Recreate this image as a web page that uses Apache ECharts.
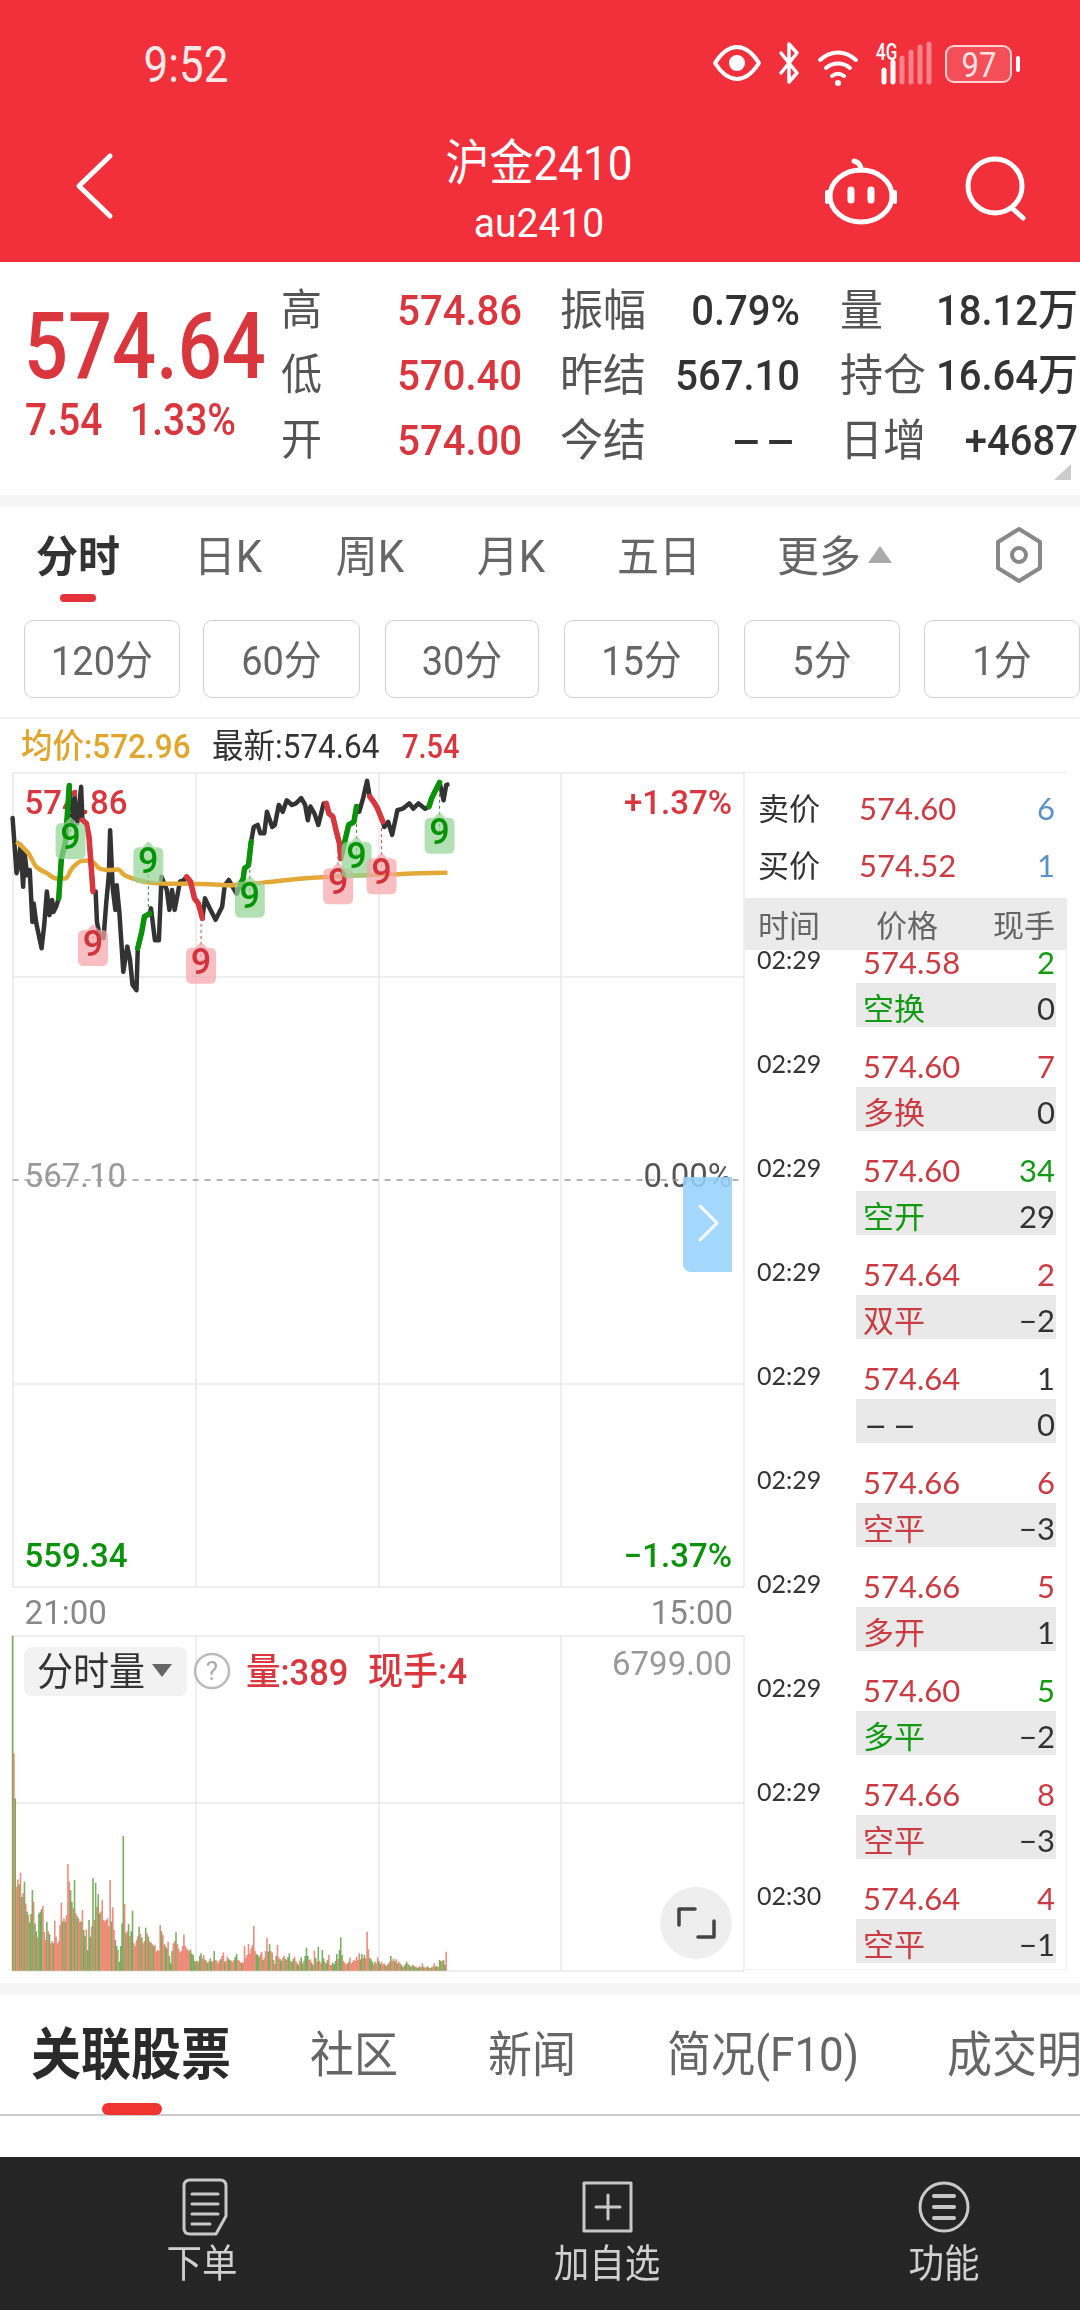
<!DOCTYPE html>
<html>
<head>
<meta charset="utf-8">
<title>沪金2410</title>
<script src="https://cdn.jsdelivr.net/npm/echarts@6/dist/echarts.min.js"></script>
<style>
html,body{margin:0;padding:0;background:#fff;overflow:hidden}
#page{position:relative;width:1080px;height:2310px;overflow:hidden;font-family:Roboto,"Noto Sans CJK SC",sans-serif}
#myChart{position:absolute;left:0;top:0;width:1080px;height:2310px}
#ui{position:absolute;left:0;top:0;width:1080px;height:2310px}
.t{position:absolute;white-space:nowrap;line-height:1}
.b{position:absolute;box-sizing:border-box}
svg{position:absolute;left:0;top:0}
</style>
</head>
<body>
<div id="page">
  <div id="myChart"></div>
  <div id="ui"></div>
</div>
<script>
const RED = '#D9363E', GREEN = '#0A930A', DARK = '#333333', GREY = '#666666';

// minute since 21:00, price
const priceMinutes = [0,3,4,6,8,9,11,13,15,16,18,19,22,24,26,28,30,31,33,35,37,40,41,43,45,47,49,52,53,56,58,59,61,63,64,66,69,71,73,74,76,78,79,81,84,87,89,91,94,95,98,100,104,105,108,111,113,117,119,121,123,127,130,132,135,138,141,144,146,149,154,159,161,164,167,170,173,175,176,179,181,183,186,188,191,193,197,199,202,205,208,212,215,219,222,224,226,229,232,236,238,240,243,246,248,249,252,255,259,261,263,266,269,271,274,277,281,282,285,288,292,296,301,304,308,313,316,318,321,324,327,329,330];
const priceValues = [574.00,572.95,573.04,573.49,572.69,573.36,572.91,573.01,572.02,572.37,571.99,572.02,571.52,571.96,572.60,572.15,572.44,572.21,572.31,572.47,573.23,573.52,573.87,574.62,573.90,574.38,573.90,574.60,573.96,573.90,573.64,573.29,572.60,572.60,572.02,571.77,571.71,572.37,572.91,573.77,572.66,572.25,572.72,572.21,571.07,571.55,571.32,570.82,570.72,571.52,571.83,572.12,572.18,572.28,571.67,571.67,572.88,572.63,572.25,572.63,572.25,572.79,572.82,572.88,572.79,572.47,572.37,572.09,572.47,572.31,572.06,572.31,572.72,572.82,572.69,572.56,572.75,572.85,573.04,573.10,573.55,573.83,573.87,573.71,573.71,574.12,573.83,573.87,574.25,574.12,574.34,574.25,574.28,574.38,574.25,573.96,574.22,574.09,573.87,574.28,574.28,574.09,574.03,573.71,573.52,573.23,573.55,573.87,573.93,574.22,574.12,574.38,574.71,574.41,574.31,574.18,573.93,573.83,573.93,573.68,574.15,574.18,574.28,574.18,574.28,574.18,574.22,574.38,574.53,574.68,574.34,574.63,574.64];
const avgMinutes = [3,12,18,26,33,40,45,52,59,66,74,80,85,95,104,117,132,150,167,175,190,216,241,266,291,327,330];
const avgValues = [573.55,573.33,573.07,572.95,572.85,572.85,573.04,573.18,573.19,573.04,573.01,573.02,572.91,572.82,572.77,572.75,572.75,572.74,572.72,572.75,572.77,572.84,572.88,572.91,572.93,572.96,572.96];
const greenRanges = [[35,43],[95,104],[173,181],[249,261],[316,324]];
const redRanges = [[53,61],[132,144],[238,249],[271,281]];

// minute, price on the line, price where the flag sits, 1 green / 0 red
const pins = [[44,574.20,573.62,1],[61,571.90,571.58,0],[103,572.18,573.16,1],[143,572.10,571.24,0],[180,573.20,572.50,1],[247,573.60,572.76,0],[261,574.20,573.26,1],[280,573.95,572.95,0],[324,574.60,573.72,1]];

// one bar a minute, 21:00 to 02:29
const volumes = [6799,4411,3498,1700,1853,1750,1989,1500,1570,1806,
1366,1200,1130,980,1150,1637,1400,960,800,676,
1163,1197,1250,1312,790,620,994,800,744,555,
600,560,1014,690,555,600,927,1380,1000,1062,
1000,1130,2165,1806,1637,1400,1265,1840,1163,1100,
1062,994,1000,1231,825,700,839,420,1028,690,
900,1874,1028,1786,1300,1556,1163,1200,1434,1028,
1000,1028,1062,900,1840,1000,1285,825,622,500,
420,180,500,960,2733,1353,758,800,947,703,
800,1218,555,500,622,700,893,750,676,555,
600,873,758,690,600,568,541,500,521,386,
420,406,927,800,724,541,500,450,589,300,
149,400,555,600,778,541,450,372,400,500,
737,500,453,420,399,433,350,318,200,180,
203,180,300,352,250,318,220,203,160,190,
250,180,200,399,220,203,150,203,240,300,
372,183,200,284,240,216,200,180,220,284,
338,220,203,170,160,169,500,260,318,541,
350,453,520,906,399,340,318,280,330,385,
216,250,400,670,385,541,400,372,220,135,
300,521,270,230,203,260,304,240,216,280,
352,200,183,240,284,190,149,115,200,270,
149,200,300,467,300,216,230,160,115,406,
260,183,487,200,149,419,250,183,150,220,
318,115,120,162,130,200,338,240,419,676,
318,200,162,130,149,180,270,149,180,216,
200,284,220,352,230,338,260,318,250,792,
433,260,230,180,130,183,150,270,190,140,
183,130,149,110,100,135,180,298,200,250,
190,230,150,183,149,120,80,95,130,183,
140,115,80,100,115,80,90,60,68,90,
70,149,80,60,68,90,50,60,68,90,
149,80,95,70,216,190,200,216,120,386];
const volSides = ('grgrrgrgrg'+'rgrgggrggr'+'gggrrrgrgr'+'rgrrrrrrgr'+'grrrggrgrg'+'rrgrggrggg'+'rgrgrggrrr'+'rrrrrgrrgg'+'rggggrgrgr'+'ggrrrrgrgr'+'rgrgrgrgrr'+'rrrgrrggrg'+'ggrrgrrrrr'+'rrrrrggggr'+'grggrrgrgr'+'ggrgrrrrgr'+'rgrrggrrrg'+'grrrgrrrrr'+'rrrrrgggrr'+'grrrggrrgr'+'grrggrrgrg'+'grggrrggrg'+'grgggrrggr'+'grgrrggrgg'+'rrrggggrgg'+'grrrrgrrrr'+'rrrrggrgrr'+'rgggrgrrgg'+'rrrgrgrgrr'+'grgrrggrgg'+'rggrggrggr'+'grgrrggrgr'+'rggrggrggr').split('');

const yMin = 559.34, yMax = 574.86, prevSettle = 567.10, volMax = 6799;
const priceGridTicks = [559.34,563.22,570.98,574.86];
const priceLabelTicks = [559.34,567.10,574.86];
const sessionMinutes = 555;
const timeLabels = ['21:00','15:00'];

// quote block
const quoteRows = [['高','574.86','振幅','0.79%','量','18.12万'],['低','570.40','昨结','567.10','持仓','16.64万'],['开','574.00','今结','--','日增','+4687']];
const chartTabs = ['分时','日K','周K','月K','五日','更多'];
const periods = ['120分','60分','30分','15分','5分','1分'];
const bottomTabs = ['关联股票','社区','新闻','简况(F10)','成交明细'];
const toolbar = ['下单','加自选','功能'];

// trade tape: time, price, qty, qty colour, type, type colour, change
const tape = [
 ['02:29','574.58','2','g','空换','g','0'],
 ['02:29','574.60','7','r','多换','r','0'],
 ['02:29','574.60','34','g','空开','g','29'],
 ['02:29','574.64','2','r','双平','r','−2'],
 ['02:29','574.64','1','d','--','d','0'],
 ['02:29','574.66','6','r','空平','r','−3'],
 ['02:29','574.66','5','r','多开','r','1'],
 ['02:29','574.60','5','g','多平','g','−2'],
 ['02:29','574.66','8','r','空平','r','−3'],
 ['02:30','574.64','4','r','空平','r','−1']];

const ui = document.getElementById('ui');
function box(x,y,w,h,css){
  const d = document.createElement('div');
  d.className = 'b';
  d.style.cssText = `left:${x}px;top:${y}px;width:${w}px;height:${h}px;${css||''}`;
  ui.appendChild(d);
  return d;
}
// x is left, centre or right edge (a), y is the vertical middle
function txt(x,y,s,size,color,a,sy,weight,font){
  const d = document.createElement('div');
  d.className = 't';
  d.textContent = s;
  const tx = a==='c' ? '-50%' : a==='r' ? '-100%' : '0';
  const dash = s==='--';
  d.style.cssText = `left:${x}px;top:${y}px;font-size:${size}px;color:${color};font-weight:${weight||400};`+
    `transform:translate(${tx},-50%) scale(${dash?2.2:1},${sy||1});`+(font?`font-family:${font};`:'')+
    (dash?`transform-origin:${a==='r'?'100%':'0'} 50%;letter-spacing:.05em;`:'');
  ui.appendChild(d);
}

// header
box(0,0,1080,262,'background:#F2303C');
txt(186,65,'9:52',44,'#FDE8E8','c',1.15);
txt(539,163,'沪金2410',44,'#fff','c',1.1,400);
txt(539,224,'au2410',39,'#fff','c',1.05);
box(945,45,67,38,'border:2.5px solid rgba(255,255,255,.75);border-radius:9px;background:rgba(255,255,255,.15)');
txt(979,65,'97',31,'#FCE3E3','c',1.15);
txt(876,52,'4G',17,'#fff','l',1.4,500);

// quote
txt(24,346,'574.64',77.5,RED,'l',1.2,500);
txt(25,421,'7.54',39,RED,'l',1.12,500);
txt(130,421,'1.33%',39,RED,'l',1.12,500);
const rowY = [311,376,441];
quoteRows.forEach((r,i)=>{
  txt(281,rowY[i],r[0],41,'#555','l',1.06);
  txt(522,rowY[i],r[1],40,RED,'r',1.08,500);
  txt(560,rowY[i],r[2],43,'#555','l',1.02);
  txt(800,rowY[i],r[3],40,DARK,'r',1.08,500);
  txt(840,rowY[i],r[4],43,'#555','l',1.02);
  txt(1078,rowY[i],r[5],40,DARK,'r',1.08,500);
});
box(0,495,1080,12,'background:#F5F5F5');

// tabs
const tabX = [78,228,370,511,659,819];
chartTabs.forEach((s,i)=>txt(tabX[i],557,s,42,i===0?DARK:'#666','c',1.04,i===0?700:400));
box(60,594,36,8,'background:#E5323B;border-radius:4px');
const periodX = [24,203,385,564,744,924], periodW = [156,157,154,155,156,156];
periods.forEach((s,i)=>{
  box(periodX[i],620,periodW[i],78,'border:1.5px solid #CFCFCF;border-radius:9px');
  txt(periodX[i]+periodW[i]/2,661,s,38,'#666','c',1.08);
});
box(0,717,1080,2,'background:#F0F0F0');
txt(21,747,'均价:572.96',31.5,'#E0A52A','l',1.08,500);
txt(212,747,'最新:574.64',31.5,DARK,'l',1.08);
txt(402,747,'7.54',29,RED,'l',1.12,500);

// arrow button over the price grid
box(683,1177,49,95,'background:rgba(150,210,250,.88);border-radius:0 0 0 8px');

// volume panel
box(24,1647,163,49,'background:#F2F2F2;border-radius:8px');
txt(37,1672,'分时量',36,DARK,'l',1.06);
txt(212,1671,'?',26,'#AAA','c');
txt(246,1672,'量:389',34.5,RED,'l',1.08,500);
txt(368,1672,'现手:4',35,RED,'l',1.08,500);
box(660,1887,72,72,'background:#EEEEEE;border-radius:50%');

// tape
box(744,772,323,1198,'border:1.5px solid #EFEFEF;border-left:none');
const TAPE_RED = '#CC3A42';
const tapeColor = {g:'#129A12',r:TAPE_RED,d:DARK};
const LATO = 'Lato,"Noto Sans CJK SC",sans-serif';
tape.forEach((r,i)=>{
  const y = 962+104*i;
  box(856,983+104*i,200,44,'background:#E9E9E9');
  txt(757,y-3,r[0],25,DARK,'l',1,400,LATO);
  txt(863,y,r[1],31,TAPE_RED,'l',1,400,LATO);
  txt(1055,y,r[2],31,tapeColor[r[3]],'r',1,400,LATO);
  txt(863,y+46,r[4],31,tapeColor[r[5]],'l',1,400,LATO);
  txt(1055,y+46,r[6],31,DARK,'r',1,400,LATO);
});
box(745,773,322,125,'background:#fff');
txt(758,808,'卖价',31,DARK,'l',1,400,LATO);
txt(859,808,'574.60',31,TAPE_RED,'l',1,400,LATO);
txt(1055,808,'6',31,'#5B93C9','r',1,400,LATO);
txt(758,865,'买价',31,DARK,'l',1,400,LATO);
txt(859,865,'574.52',31,TAPE_RED,'l',1,400,LATO);
txt(1055,865,'1',31,'#5B93C9','r',1,400,LATO);
box(744,898,323,52,'background:#EBEBEB');
txt(758,925,'时间',31,GREY,'l',1,400,LATO);
txt(907,925,'价格',31,GREY,'c',1,400,LATO);
txt(1055,925,'现手',31,GREY,'r',1,400,LATO);

// lower tabs
box(0,1983,1080,12,'background:#F5F5F5');
txt(31,2055,bottomTabs[0],50,'#2A2A2A','l',1.12,700);
txt(354,2055,bottomTabs[1],44,'#666','c',1.1);
txt(532,2055,bottomTabs[2],44,'#666','c',1.1);
txt(667,2055,bottomTabs[3],44,'#666','l',1.08);
txt(947,2055,bottomTabs[4],45,'#666','l',1.08);
box(0,2114,1080,2,'background:#CCCCCC');
box(102,2103,60,12,'background:#F0342F;border-radius:6px');

// toolbar
box(0,2157,1080,153,'background:#252525');
const toolX = [202,607,944];
toolbar.forEach((s,i)=>txt(toolX[i],2265,s,35.5,'#D0D0D0','c',1.08));

// icons
const svg = `<svg width="1080" height="2310" fill="none" stroke-linecap="round" stroke-linejoin="round">
<g stroke="#fff">
<path d="M110 156L79 186L110 216" stroke-width="5"/>
<ellipse cx="861" cy="196" rx="31" ry="26" stroke-width="5"/>
<path d="M827 192v10M895 192v10" stroke-width="4"/>
<path d="M861 170c0-5-3-8-7-9" stroke-width="5"/>
<circle cx="995" cy="186" r="27" stroke-width="5"/>
<path d="M1012 208l11 10" stroke-width="5"/>
<path d="M851 190v10M871 190v10" stroke-width="7"/>
<path d="M715 63c7-11 15-16 22-16s15 5 22 16c-7 11-15 16-22 16s-15-5-22-16z" stroke-width="4"/>
<circle cx="737" cy="63" r="8" fill="#fff" stroke="none"/>
<path d="M781 53l16 20-8 9V44l8 9-16 20" stroke-width="3.5"/>
<path d="M820 60c11-10 25-10 36 0M826 68c7-6 17-6 24 0M832 76c4-3 8-3 12 0" stroke-width="4"/>
<circle cx="838" cy="83" r="3" fill="#fff" stroke="none"/>
<path d="M884 70v12M893 62v20" stroke-width="5"/>
<path d="M902 58v24M911 52v30M920 47v35M929 44v38" stroke="rgba(255,255,255,.4)" stroke-width="5"/>
<path d="M1018 58v12" stroke-width="4"/>
</g>
<path d="M868 563L880 546L892 563z" fill="#AAA"/>
<path d="M1071 464v16h-17z" fill="#CCC"/>
<g stroke="#888" stroke-width="4"><path d="M1019 529l21 13v26l-21 13-21-13v-26z"/><circle cx="1019" cy="555" r="7"/></g>
<path d="M152 1664h20l-10 13z" fill="#666"/>
<circle cx="212" cy="1671" r="17" stroke="#BBB" stroke-width="2.5"/>
<path d="M700 1206l17 17-17 17" stroke="#fff" stroke-width="3"/>
<path d="M679 1925v-16h16M714 1921v16h-16" stroke="#444" stroke-width="3.5"/>
<g stroke="#C8C8C8" stroke-width="3">
<path d="M184 2186q0-6 6-6h30q6 0 6 6v30l-10 18h-26q-6 0-6-6z"/>
<path d="M192 2194h26M192 2204h26M192 2214h26M192 2224h18"/>
<rect x="584" y="2183" width="47" height="48"/>
<path d="M596 2207h24M608 2195v24"/>
<ellipse cx="944" cy="2207" rx="24" ry="24"/>
<path d="M934 2196h20M934 2207h20M934 2218h20" stroke-width="4"/>
</g>
</svg>`;
const wrap = document.createElement('div');
wrap.innerHTML = svg;
ui.appendChild(wrap.firstChild);

// coloured stretches of the price line, cut out of the same vertices
function stretches(ranges){
  const out = [];
  ranges.forEach(([a,b])=>{
    priceMinutes.forEach((m,i)=>{ if(m>=a && m<=b) out.push([m,priceValues[i]]); });
    out.push([b,'-']);
  });
  return out;
}

const myChart = echarts.init(document.getElementById('myChart'));
const font = 'Roboto,"Noto Sans CJK SC",sans-serif';
const gridLine = {show:true,lineStyle:{color:'#E8E8E8',width:1.5}};

function pinItem(params,api){
  const green = api.value(3)===1;
  const m = api.value(0);
  const a = api.coord([m,api.value(1)]);
  const p = api.coord([m,api.value(2)]);
  const line = green ? '#1B8F1B' : '#C04048';
  return {type:'group',children:[
    {type:'line',shape:{x1:p[0],y1:p[1],x2:a[0],y2:a[1]},style:{stroke:line,lineWidth:1,lineDash:[3,3]}},
    {type:'path',shape:{pathData:'M15 0L21 6H24Q30 6 30 12V36Q30 42 24 42H6Q0 42 0 36V12Q0 6 6 6H9Z',x:p[0]-15,y:p[1]-21,width:30,height:42,layout:'cover'},
      style:{fill:green?'rgba(150,212,150,.72)':'rgba(245,165,170,.72)'}},
    {type:'text',x:p[0],y:p[1]+2,style:{text:'9',fill:green?'#069406':'#D2333B',font:'500 36px Roboto',align:'center',verticalAlign:'middle'}}
  ]};
}

const option = {
  animation:false,
  grid:[
    {left:12.6,width:731.4,top:773,height:814},
    {left:12.6,width:731.4,top:1635.7,height:335}
  ],
  xAxis:[
    {type:'value',gridIndex:0,min:0,max:sessionMinutes,interval:sessionMinutes/4,
      axisLine:{show:false},axisTick:{show:false},splitLine:gridLine,
      axisLabel:{show:true,customValues:[0,sessionMinutes],margin:12,alignMinLabel:'left',alignMaxLabel:'right',
        formatter:v=>v===0?`{a|${timeLabels[0]}}`:`{b|${timeLabels[1]}}`,
        rich:{a:{color:'#888',fontSize:33,fontFamily:font,padding:[0,0,0,12]},b:{color:'#888',fontSize:33,fontFamily:font,padding:[0,11,0,0]}}}},
    {type:'value',gridIndex:1,min:0,max:sessionMinutes,interval:sessionMinutes/4,
      axisLine:{show:false},axisTick:{show:false},axisLabel:{show:false},splitLine:gridLine}
  ],
  yAxis:[
    {type:'value',gridIndex:0,min:yMin,max:yMax,axisLine:{show:false},
      axisTick:{show:false,customValues:priceGridTicks},splitLine:gridLine,
      axisLabel:{inside:true,margin:12,customValues:priceLabelTicks,
        formatter:v=>v===yMax?`{t|${v.toFixed(2)}}`:v===yMin?`{b|${v.toFixed(2)}}`:`{m|${v.toFixed(2)}}`,
        rich:{
          t:{color:RED,fontSize:33,fontFamily:font,fontWeight:500,padding:[66,0,0,0]},
          m:{color:'#999',fontSize:33,fontFamily:font,padding:[0,0,3,0]},
          b:{color:GREEN,fontSize:33,fontFamily:font,fontWeight:500,padding:[0,0,57,0]}}}},
    {type:'value',gridIndex:0,min:yMin,max:yMax,position:'right',axisLine:{show:false},
      axisTick:{show:false,customValues:priceGridTicks},splitLine:{show:false},
      axisLabel:{inside:true,margin:12,customValues:priceLabelTicks,
        formatter:v=>{
          const pct = ((v-prevSettle)/prevSettle*100);
          const s = Math.abs(pct).toFixed(2)+'%';
          return v===yMax?`{t|+${s}}`:v===yMin?`{b|−${s}}`:`{m|${s}}`;
        },
        rich:{
          t:{color:RED,fontSize:33,fontFamily:font,fontWeight:500,padding:[66,0,0,0]},
          m:{color:'#555',fontSize:33,fontFamily:font,padding:[0,0,3,0]},
          b:{color:GREEN,fontSize:33,fontFamily:font,fontWeight:500,padding:[0,0,57,0]}}}},
    {type:'value',gridIndex:1,min:0,max:volMax,interval:volMax/2,position:'right',axisLine:{show:false},axisTick:{show:false},splitLine:gridLine,
      axisLabel:{inside:true,margin:12,customValues:[volMax],
        formatter:v=>`{t|${v.toFixed(2)}}`,
        rich:{t:{color:'#999',fontSize:33,fontFamily:font,padding:[62,0,0,0]}}}}
  ],
  series:[
    {name:'价格',type:'line',xAxisIndex:0,yAxisIndex:0,showSymbol:false,z:3,
      data:priceMinutes.map((m,i)=>[m,priceValues[i]]),
      lineStyle:{color:'#333',width:4.5,cap:'round',join:'round'},
      markLine:{silent:true,symbol:'none',label:{show:false},data:[{yAxis:prevSettle}],
        lineStyle:{color:'#999',type:[6,6],width:1.5}}},
    {name:'均价',type:'line',xAxisIndex:0,yAxisIndex:0,showSymbol:false,z:4,smooth:0.3,
      data:avgMinutes.map((m,i)=>[m,avgValues[i]]),
      lineStyle:{color:'#E3A836',width:4.5}},
    {name:'绿',type:'line',xAxisIndex:0,yAxisIndex:0,showSymbol:false,z:4,connectNulls:false,
      data:stretches(greenRanges),lineStyle:{color:'#0A930A',width:5.5,cap:'round',join:'round'}},
    {name:'红',type:'line',xAxisIndex:0,yAxisIndex:0,showSymbol:false,z:4,connectNulls:false,
      data:stretches(redRanges),lineStyle:{color:'#D9363E',width:5.5,cap:'round',join:'round'}},
    {name:'信号',type:'custom',xAxisIndex:0,yAxisIndex:0,z:5,clip:false,
      encode:{x:0,y:2},data:pins,renderItem:pinItem},
    {name:'分时量',type:'bar',xAxisIndex:1,yAxisIndex:2,barWidth:1.6,
      data:volumes.map((v,i)=>[i,v]),
      itemStyle:{opacity:.8,color:p=>volSides[p.dataIndex]==='r'?'#E8705A':'#5A9A3A'}}
  ]
};
myChart.setOption(option);
</script>
</body>
</html>
